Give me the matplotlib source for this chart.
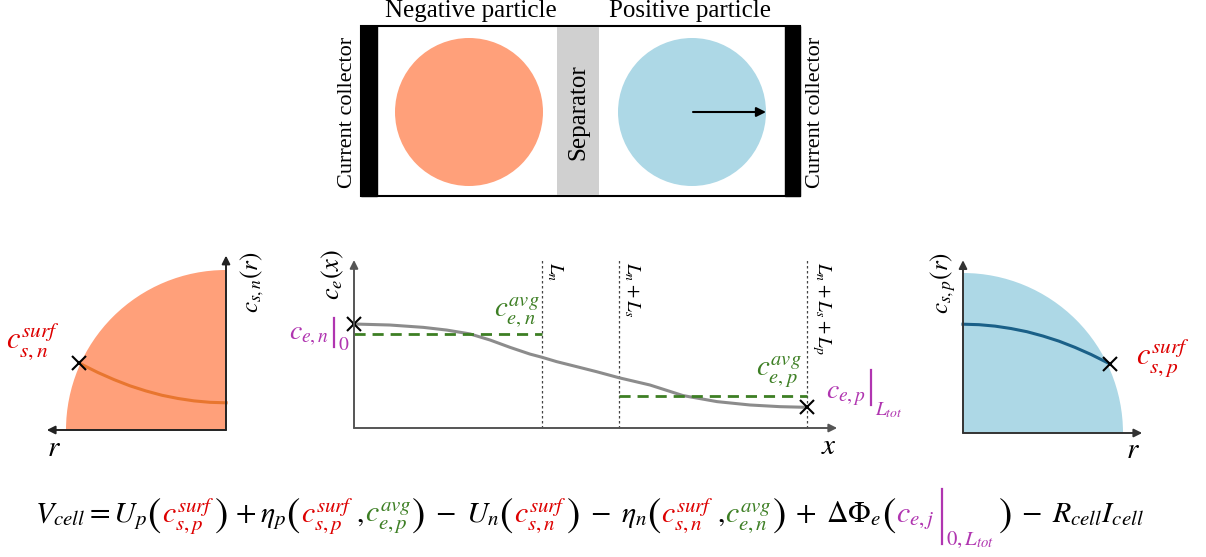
import matplotlib
matplotlib.use("Agg")
import matplotlib.pyplot as plt
from matplotlib.patches import Rectangle, Circle, Wedge

plt.rcParams["mathtext.fontset"] = "stix"
plt.rcParams["font.family"] = ["Liberation Serif", "DejaVu Serif"]

# ── data ──────────────────────────────────────────────────────────────────────

# solid concentration profiles inside the particles (r normalised by radius)
r_n = [0.0, 0.1, 0.2, 0.3, 0.4, 0.5, 0.6, 0.7, 0.8, 0.9, 0.92]
cs_n = [0.17, 0.173, 0.182, 0.197, 0.217, 0.244, 0.276, 0.315, 0.359, 0.409, 0.42]
r_p = [0.0, 0.1, 0.2, 0.3, 0.4, 0.5, 0.6, 0.7, 0.8, 0.9, 0.92]
cs_p = [0.68, 0.677, 0.668, 0.653, 0.633, 0.606, 0.574, 0.535, 0.491, 0.441, 0.43]

# electrolyte concentration across the cell
L_n, L_s, L_p = 1.0, 0.41, 1.0
x_e = [0.0, 0.191, 0.369, 0.493, 0.617, 0.723, 0.830, 0.936, 1.0, 1.078, 1.185,
       1.291, 1.41, 1.574, 1.75, 1.931, 2.106, 2.266, 2.41]
c_e = [0.619, 0.613, 0.599, 0.583, 0.560, 0.524, 0.480, 0.440, 0.421, 0.395, 0.365,
       0.335, 0.299, 0.256, 0.193, 0.157, 0.137, 0.127, 0.123]
ce_avg_n = 0.56
ce_avg_p = 0.19

ORANGE = "#FFA07A"
BLUE = "#ADD8E6"
RED = "#DD0000"
GREEN = "#3D7F24"
MAGENTA = "#B035B0"
K = "black"

eq_pieces = [
    ("t", r"$V_{cell} = U_p$", K),
    ("p", r"$($", K),
    ("t", r"$c_{s,p}^{surf}$", RED),
    ("p", r"$)$", K),
    ("t", r"$\,+\eta_p\,$", K),
    ("p", r"$($", K),
    ("t", r"$c_{s,p}^{surf}$", RED),
    ("t", r"$\,,$", K),
    ("t", r"$c_{e,p}^{avg}$", GREEN),
    ("p", r"$)$", K),
    ("t", r"$\;-\;U_n$", K),
    ("p", r"$($", K),
    ("t", r"$c_{s,n}^{surf}$", RED),
    ("p", r"$)$", K),
    ("t", r"$\;-\;\eta_n$", K),
    ("p", r"$($", K),
    ("t", r"$c_{s,n}^{surf}$", RED),
    ("t", r"$\,,$", K),
    ("t", r"$c_{e,n}^{avg}$", GREEN),
    ("p", r"$)$", K),
    ("t", r"$\;+\;\Delta\Phi_e$", K),
    ("p", r"$($", K),
    ("b", (r"$c_{e,j}$", r"$0,L_{tot}$"), MAGENTA),
    ("p", r"$)$", K),
    ("t", r"$\;-\;R_{cell}I_{cell}$", K),
]

W, H = 1206, 557
fig = plt.figure(figsize=(W / 100, H / 100), dpi=100)
ax0 = fig.add_axes([0, 0, 1, 1])
ax0.set_xlim(0, W)
ax0.set_ylim(H, 0)
ax0.axis("off")
renderer = fig.canvas.get_renderer()


# ── helpers ───────────────────────────────────────────────────────────────────

def inset(ox, oy, sx, sy, xlim, ylim, flip=False):
    if flip:
        left, right = ox - xlim[0] * sx, ox - xlim[1] * sx
    else:
        left, right = ox + xlim[0] * sx, ox + xlim[1] * sx
    bottom, top = oy - ylim[0] * sy, oy - ylim[1] * sy
    ax = fig.add_axes([left / W, 1 - bottom / H, (right - left) / W, (bottom - top) / H])
    ax.set_xlim(*xlim)
    ax.set_ylim(*ylim)
    ax.axis("off")
    return ax


def arrow(ax, p0, p1, color):
    ax.annotate("", xy=p1, xytext=p0, annotation_clip=False,
                arrowprops=dict(arrowstyle="-|>", color=color, lw=1.4,
                                mutation_scale=12, shrinkA=0, shrinkB=0))


def eval_bar(x, y, main, sub, col, fs, top, bot, sub_dy, gap=0.25):
    em = fs * 100 / 72
    t = ax0.text(x, y, main, fontsize=fs, color=col, va="baseline")
    w = t.get_window_extent(renderer).width
    xb = x + w + gap * em
    ln, = ax0.plot([xb, xb], [y - top * em, y + bot * em], color=col, lw=1.6)
    t2 = ax0.text(xb + 0.12 * em, y + sub_dy * em, sub, fontsize=fs * 0.7,
                  color=col, va="baseline")
    w2 = t2.get_window_extent(renderer).width
    return xb + 0.12 * em + w2, [t, ln, t2]


def draw_eq(fs, x0, y0):
    arts = []
    x = x0
    for kind, s, col in eq_pieces:
        if kind == "p":
            t = ax0.text(x, y0 + 0.18 * fs, s, fontsize=fs * 1.35, color=col, va="baseline")
            x += t.get_window_extent(renderer).width
            arts.append(t)
        elif kind == "b":
            x, a = eval_bar(x, y0, s[0], s[1], col, fs, 1.1, 0.72, 0.78)
            x += 0.2 * fs
            arts += a
        else:
            t = ax0.text(x, y0, s, fontsize=fs, color=col, va="baseline")
            x += t.get_window_extent(renderer).width
            arts.append(t)
    return x, arts


# ── top cell sketch ───────────────────────────────────────────────────────────

ax0.add_patch(Rectangle((361, 26), 439, 170, fill=False, ec="black", lw=1.5))
ax0.add_patch(Rectangle((361, 26), 16, 170, color="black"))
ax0.add_patch(Rectangle((785, 26), 15, 170, color="black"))
ax0.add_patch(Rectangle((557, 27), 42, 168, color="#D0D0D0", lw=0))
ax0.add_patch(Circle((469, 112), 74, color=ORANGE, lw=0))
ax0.add_patch(Circle((692, 112), 74, color=BLUE, lw=0))
ax0.annotate("", xy=(766, 112), xytext=(693, 112),
             arrowprops=dict(arrowstyle="-|>", color="black", lw=1.5,
                             mutation_scale=14, shrinkA=0, shrinkB=0))

ax0.text(471, 17, "Negative particle", fontsize=18, ha="center", va="baseline")
ax0.text(690, 17, "Positive particle", fontsize=18, ha="center", va="baseline")
ax0.text(347, 112, "Current collector", fontsize=16, rotation=90, ha="center", va="center")
ax0.text(816, 112, "Current collector", fontsize=16, rotation=90, ha="center", va="center")
ax0.text(578, 112, "Separator", fontsize=18, rotation=90, ha="center", va="center")

# ── negative particle profile ─────────────────────────────────────────────────

axL = inset(226, 430, 160, 160, (1.12, -0.02), (-0.02, 1.09), flip=True)
axL.add_patch(Wedge((0, 0), 1.0, 0, 90, color=ORANGE, lw=0))
axL.plot(r_n, cs_n, color="#E8762F", lw=2.2, clip_on=False)
axL.plot(r_n[-1], cs_n[-1], "x", ms=10, mew=1.5, color="black", clip_on=False)
arrow(axL, (0, 0), (1.12, 0), "#222222")
arrow(axL, (0, 0), (0, 1.09), "#222222")

ax0.text(6, 362, r"$c_{s,n}^{surf}$", fontsize=22, color=RED, ha="left", va="bottom")
ax0.text(239, 313, r"$c_{s,n}(r)$", fontsize=18, rotation=90, ha="left", va="bottom")
ax0.text(54, 436, r"$r$", fontsize=21, ha="center", va="top")

# ── electrolyte profile ───────────────────────────────────────────────────────

L_tot = L_n + L_s + L_p
axM = inset(354, 428, 188, 168, (-0.02, 2.57), (-0.02, 1.0))
for xv in [L_n, L_n + L_s, L_tot]:
    axM.plot([xv, xv], [0, 1.01], color="#444444", lw=0.9, ls=(0, (2, 2)), clip_on=False)
axM.plot(x_e, c_e, color="#8C8C8C", lw=2.2, clip_on=False)
axM.plot([0, L_n], [ce_avg_n, ce_avg_n], color=GREEN, lw=2, ls=(0, (4, 2.5)))
axM.plot([L_n + L_s, L_tot], [ce_avg_p, ce_avg_p], color=GREEN, lw=2, ls=(0, (4, 2.5)))
axM.plot([0, L_tot], [c_e[0], c_e[-1]], "x", ls="none", ms=10, mew=1.5, color="black",
         clip_on=False)
arrow(axM, (0, 0), (2.57, 0), "#555555")
arrow(axM, (0, 0), (0, 1.0), "#555555")

ax0.text(346, 300, r"$c_e(x)$", fontsize=19, rotation=90, ha="right", va="bottom")
ax0.text(829, 434, r"$x$", fontsize=21, ha="center", va="top")
ax0.text(545, 262, r"$L_n$", fontsize=14, rotation=270, ha="left", va="top")
ax0.text(622, 262, r"$L_n + L_s$", fontsize=14, rotation=270, ha="left", va="top")
ax0.text(810, 262, r"$L_n + L_s + L_p$", fontsize=14, rotation=270, ha="left", va="top")
ax0.text(540, 329, r"$c_{e,n}^{avg}$", fontsize=21, color=GREEN, ha="right", va="bottom")
ax0.text(802, 390, r"$c_{e,p}^{avg}$", fontsize=21, color=GREEN, ha="right", va="bottom")
eval_bar(289, 340, r"$c_{e,n}$", r"$0$", MAGENTA, 20, 0.78, 0.26, 0.36, gap=0.2)
eval_bar(826, 398, r"$c_{e,p}$", r"$L_{tot}$", MAGENTA, 20, 1.0, 0.25, 0.62, gap=0.2)

# ── positive particle profile ─────────────────────────────────────────────────

axR = inset(963, 433, 160, 160, (-0.02, 1.12), (-0.02, 1.08))
axR.add_patch(Wedge((0, 0), 1.0, 0, 90, color=BLUE, lw=0))
axR.plot(r_p, cs_p, color="#1A6088", lw=2.2, clip_on=False)
axR.plot(r_p[-1], cs_p[-1], "x", ms=10, mew=1.5, color="black", clip_on=False)
arrow(axR, (0, 0), (1.12, 0), "#333333")
arrow(axR, (0, 0), (0, 1.08), "#333333")

ax0.text(1136, 380, r"$c_{s,p}^{surf}$", fontsize=22, color=RED, ha="left", va="bottom")
ax0.text(958, 314, r"$c_{s,p}(r)$", fontsize=18, rotation=90, ha="right", va="bottom")
ax0.text(1133, 438, r"$r$", fontsize=21, ha="center", va="top")

# ── cell voltage equation ─────────────────────────────────────────────────────

fs = 17.0
x_end, arts = draw_eq(fs, 35, 522)
for a in arts:
    a.remove()
fs = fs * (1160 - 35) / (x_end - 35)
draw_eq(fs, 35, 522)

fig.savefig("out.png", dpi=100)
